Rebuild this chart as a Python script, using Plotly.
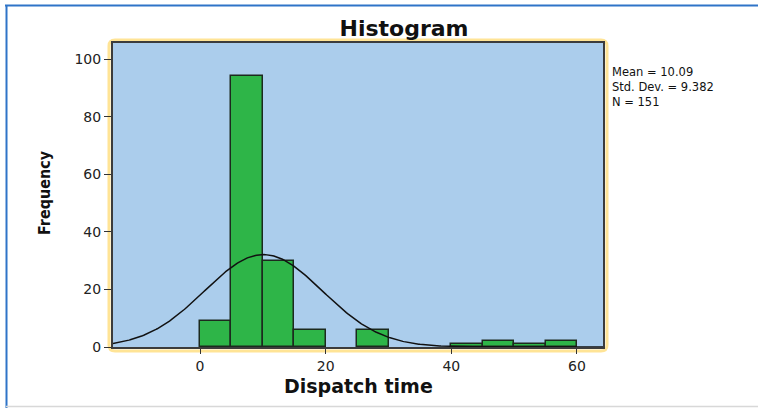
import numpy as np
import plotly.graph_objects as go

# ---- data ----
bin_lower = [0, 5, 10, 15, 25, 40, 45, 50, 55]
counts = [9, 94, 30, 6, 6, 1, 2, 1, 2]
bin_width = 5
stat_mean = 10.09
stat_std = 9.382
stat_n = 151
x_ticks = [0, 20, 40, 60]
y_ticks = [0, 20, 40, 60, 80, 100]
stats_lines = ["Mean = 10.09", "Std. Dev. = 9.382", "N = 151"]

W, H = 758, 408
L, R, T, B = 113, 603, 43, 347  # plot area in pixels
XR = [-13.85, 64.14]
YR = [0, 105.6]


def px(xp):
    return (xp - L) / (R - L)


def py(yp):
    return (B - yp) / (B - T)


bin_centers = [b + bin_width / 2 for b in bin_lower]

# normal curve fitted from the reported statistics
xc = np.linspace(XR[0], XR[1], 400)
yc = stat_n * bin_width * np.exp(-0.5 * ((xc - stat_mean) / stat_std) ** 2) / (stat_std * np.sqrt(2 * np.pi))

fig = go.Figure()
fig.add_trace(go.Bar(
    x=bin_centers, y=counts, width=bin_width,
    marker=dict(color="#2EB548", line=dict(color="#1c2a1e", width=1.5)),
    hoverinfo="x+y",
))
fig.add_trace(go.Scatter(
    x=xc, y=yc, mode="lines", line=dict(color="#111111", width=1.5),
    hoverinfo="skip",
))

tickfont = dict(family="DejaVu Sans, Arial, sans-serif", size=14, color="#222222")

fig.update_layout(
    width=W, height=H,
    margin=dict(l=L, r=W - R, t=T, b=H - B, pad=0),
    paper_bgcolor="white",
    plot_bgcolor="#ABCDEC",
    showlegend=False,
    bargap=0,
    title=dict(
        text="<b>Histogram</b>",
        font=dict(family="DejaVu Sans, Arial, sans-serif", size=22, color="#111111"),
        x=404 / W, xanchor="center", xref="container",
        y=1 - 28 / H, yanchor="middle", yref="container",
    ),
    xaxis=dict(
        range=XR, tickvals=x_ticks, ticktext=[str(v) for v in x_ticks],
        showgrid=False, zeroline=False,
        ticks="outside", ticklen=5, tickcolor="#333333", tickwidth=1,
        tickfont=tickfont,
        showline=True, linecolor="#3c3c3c", linewidth=2, mirror=True,
    ),
    yaxis=dict(
        range=YR, tickvals=y_ticks, ticktext=[str(v) for v in y_ticks],
        showgrid=False, zeroline=False,
        ticks="outside", ticklen=7, tickcolor="#333333", tickwidth=1,
        tickfont=tickfont,
        showline=True, linecolor="#3c3c3c", linewidth=2, mirror=True,
    ),
)

# axis titles
fig.add_annotation(
    text="<b>Dispatch time</b>", xref="paper", yref="paper",
    x=0.5, y=py(386), xanchor="center", yanchor="middle", showarrow=False,
    font=dict(family="DejaVu Sans, Arial, sans-serif", size=19, color="#111111"),
)
fig.add_annotation(
    text="<b>Frequency</b>", xref="paper", yref="paper",
    x=px(44), y=py(193), xanchor="center", yanchor="middle", showarrow=False,
    textangle=-90,
    font=dict(family="DejaVu Sans Condensed, Liberation Sans Narrow, DejaVu Sans, sans-serif",
              size=16, color="#111111"),
)

# statistics box text (one multi-line block)
fig.add_annotation(
    text="<br>".join(stats_lines), xref="paper", yref="paper",
    x=px(610), y=py(63), xanchor="left", yanchor="top", align="left", showarrow=False,
    font=dict(family="DejaVu Sans, Arial, sans-serif", size=11.5, color="#111111"),
)

# yellow rounded frame around plot area
x0, x1 = px(109), px(607)
y0, y1 = py(351), py(40)
rx = 6 / (R - L)
ry = 6 / (B - T)
path = (f"M {x0+rx},{y1} L {x1-rx},{y1} Q {x1},{y1} {x1},{y1-ry} "
        f"L {x1},{y0+ry} Q {x1},{y0} {x1-rx},{y0} "
        f"L {x0+rx},{y0} Q {x0},{y0} {x0},{y0+ry} "
        f"L {x0},{y1-ry} Q {x0},{y1} {x0+rx},{y1} Z")
fig.add_shape(type="path", path=path, xref="paper", yref="paper",
              line=dict(color="#FFE496", width=3), layer="below")

# outer window border (blue top/left, light gray bottom)
fig.add_shape(type="line", xref="paper", yref="paper",
              x0=px(5), x1=px(758), y0=py(5.5), y1=py(5.5),
              line=dict(color="#2F74C8", width=2))
fig.add_shape(type="line", xref="paper", yref="paper",
              x0=px(6.5), x1=px(6.5), y0=py(5), y1=py(408),
              line=dict(color="#2F74C8", width=2))
fig.add_shape(type="line", xref="paper", yref="paper",
              x0=px(6), x1=px(758), y0=py(406.5), y1=py(406.5),
              line=dict(color="#D8D8D8", width=1.5))

fig.write_html(
    "out.html",
    config={"displayModeBar": False},
    post_script="document.body.style.margin='0px';document.body.style.overflow='hidden';",
)
